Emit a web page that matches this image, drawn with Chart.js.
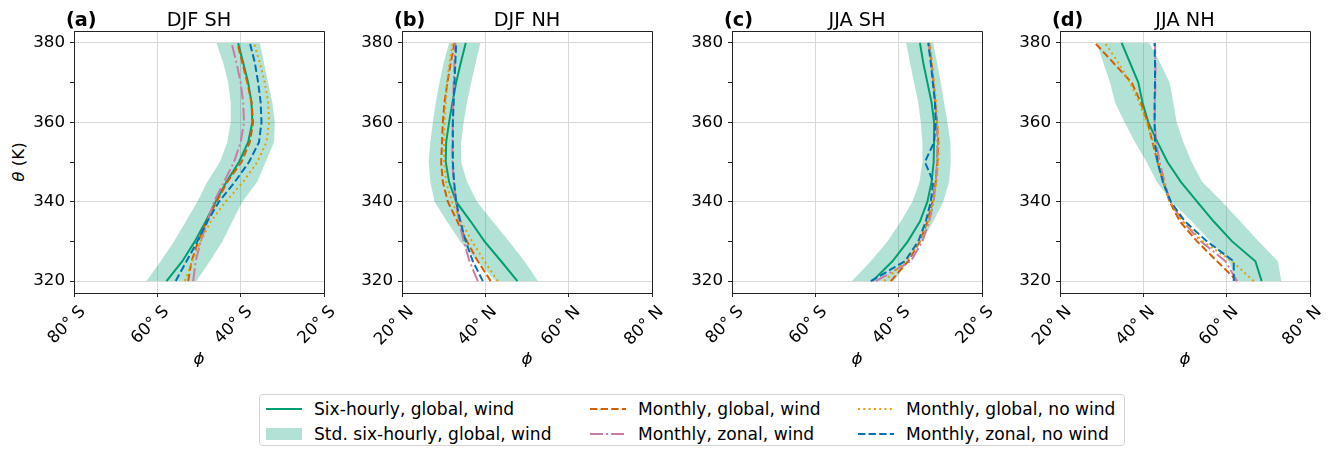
<!DOCTYPE html>
<html>
<head>
<meta charset="utf-8">
<script src="https://cdn.jsdelivr.net/npm/chart.js@4.4.1/dist/chart.umd.min.js"></script>
<style>
  body { margin: 0; background: #fff; font-family: "DejaVu Sans", sans-serif; color: #000; }
  #fig { position: relative; width: 1343px; height: 449px; overflow: hidden; }
  canvas.panel { position: absolute; top: 0; }
  .tag, .ttl { position: absolute; top: 9.5px; font-size: 19.3px; line-height: 20px; white-space: nowrap; }
  .tag { font-weight: bold; }
  .ttl { transform: translateX(-50%); }
  #ylab { position: absolute; left: 17.5px; top: 162px; font-size: 16.7px; line-height: 20px;
          white-space: nowrap; transform: translate(-50%, -50%) rotate(-90deg); }
  #legend { position: absolute; left: 259px; top: 394px; width: 866px; height: 52px;
            border: 1px solid #d4d4d4; border-radius: 4px; box-sizing: border-box; }
  .entry { position: absolute; height: 20px; display: flex; align-items: center;
           font-size: 17.1px; line-height: 20px; white-space: nowrap; }
  .entry svg { margin-right: 12px; }
</style>
</head>
<body>
<div id="fig">
  <div id="ylab"><i>θ</i> (K)</div>
  <div id="legend"></div>
</div>
<script>
// Niveles de temperatura potencial (K)
const theta = [320, 325, 330, 335, 340, 345, 350, 355, 360, 365, 370, 375, 380];

// (a) DJF SH  -- latitudes (negativo = sur)
const djfSH_sixHourly    = [-57.8, -54.0, -51.0, -48.4, -46.0, -43.4, -40.4, -38.2, -37.2, -37.4, -38.2, -39.4, -40.6];
const djfSH_stdLow       = [-62.6, -59.2, -56.0, -53.2, -50.4, -48.0, -45.0, -43.2, -42.4, -42.4, -43.0, -44.2, -45.8];
const djfSH_stdHigh      = [-50.6, -47.4, -44.4, -42.0, -39.6, -36.0, -34.0, -32.0, -31.8, -32.4, -33.4, -34.4, -35.4];
const djfSH_globalWind   = [-52.6, -51.8, -50.2, -48.2, -45.8, -43.2, -39.8, -37.8, -37.0, -37.4, -38.4, -39.6, -40.8];
const djfSH_zonalWind    = [-51.4, -50.8, -49.6, -48.0, -46.4, -44.0, -41.6, -40.0, -39.2, -39.4, -40.0, -41.0, -42.2];
const djfSH_globalNoWind = [-53.4, -51.6, -49.6, -47.2, -43.6, -39.4, -36.0, -33.8, -33.2, -33.4, -34.2, -35.4, -36.8];
const djfSH_zonalNoWind  = [-55.6, -53.0, -50.4, -48.0, -45.2, -41.4, -38.0, -35.6, -35.0, -35.2, -35.8, -36.6, -37.8];

// (b) DJF NH
const djfNH_sixHourly    = [47.7, 43.8, 39.8, 36.5, 33.0, 31.3, 30.5, 30.6, 31.3, 32.1, 33.0, 34.1, 35.3];
const djfNH_stdLow       = [42.5, 38.0, 34.0, 30.8, 27.8, 26.8, 26.4, 26.8, 27.4, 28.1, 29.0, 30.0, 31.3];
const djfNH_stdHigh      = [52.6, 49.4, 45.7, 41.8, 38.0, 35.6, 34.2, 34.2, 34.8, 35.6, 36.6, 37.7, 38.8];
const djfNH_globalWind   = [41.3, 38.2, 35.6, 33.3, 31.0, 29.8, 29.4, 29.6, 29.8, 30.2, 30.9, 31.7, 32.6];
const djfNH_zonalWind    = [38.2, 36.2, 34.8, 33.7, 32.9, 32.4, 32.1, 32.1, 32.2, 32.3, 32.4, 32.6, 32.8];
const djfNH_globalNoWind = [43.0, 39.8, 36.8, 34.2, 32.0, 30.6, 30.1, 30.1, 30.2, 30.5, 30.8, 31.4, 32.2];
const djfNH_zonalNoWind  = [39.4, 37.0, 35.3, 34.0, 33.0, 32.5, 32.2, 32.2, 32.2, 32.4, 32.6, 32.8, 33.0];

// (c) JJA SH
const jjaSH_sixHourly    = [-46.3, -41.5, -37.8, -34.9, -33.1, -32.1, -31.6, -31.5, -31.5, -32.1, -33.1, -34.1, -34.9];
const jjaSH_stdLow       = [-51.2, -46.7, -42.7, -39.5, -36.7, -35.0, -34.3, -34.3, -34.7, -35.3, -36.3, -37.3, -38.2];
const jjaSH_stdHigh      = [-41.1, -37.8, -34.5, -31.7, -29.3, -27.9, -27.5, -27.6, -28.3, -29.1, -29.9, -30.8, -31.7];
const jjaSH_globalWind   = [-41.9, -37.7, -34.9, -33.1, -31.9, -31.1, -30.7, -30.5, -30.8, -31.2, -31.6, -32.1, -32.7];
const jjaSH_zonalWind    = [-45.5, -37.1, -34.3, -32.7, -31.6, -31.1, -30.8, -30.7, -30.9, -31.2, -31.7, -32.2, -32.8];
const jjaSH_globalNoWind = [-43.5, -38.3, -35.0, -32.9, -31.7, -30.9, -30.5, -30.4, -30.7, -31.0, -31.5, -32.0, -32.5];
const jjaSH_zonalNoWind  = [-46.7, -38.5, -35.3, -33.5, -32.3, -31.7, -33.7, -31.5, -31.1, -31.3, -31.8, -32.3, -32.9];

// (d) JJA NH
const jjaNH_sixHourly    = [68.4, 66.9, 61.3, 56.9, 52.9, 49.0, 45.8, 43.4, 41.2, 39.8, 38.8, 36.8, 34.8];
const jjaNH_stdLow       = [62.5, 60.5, 56.1, 51.6, 46.8, 43.2, 40.8, 38.0, 35.5, 33.2, 32.0, 30.4, 28.8];
const jjaNH_stdHigh      = [73.1, 72.3, 67.7, 63.3, 58.9, 54.1, 51.6, 49.6, 48.0, 47.2, 46.3, 44.0, 41.4];
const jjaNH_globalWind   = [62.5, 57.7, 52.9, 48.8, 46.3, 44.8, 43.4, 42.2, 41.0, 39.4, 37.2, 32.8, 28.4];
const jjaNH_zonalWind    = [62.5, 59.7, 53.8, 49.5, 46.4, 45.1, 43.9, 43.1, 42.7, 42.8, 42.9, 42.9, 42.8];
const jjaNH_globalNoWind = [66.5, 61.3, 54.3, 49.5, 46.3, 45.0, 43.6, 42.4, 40.8, 39.0, 36.8, 34.0, 30.8];
const jjaNH_zonalNoWind  = [61.7, 61.7, 55.3, 50.0, 46.6, 44.7, 43.4, 42.8, 42.7, 42.7, 42.8, 42.8, 42.7];

// Colores (Okabe-Ito)
const green = '#009E73';
const bandColor = 'rgba(0, 158, 115, 0.3)';
const orange = '#D55E00';
const pink = '#CC79A7';
const yellow = '#E69F00';
const blue = '#0072B2';

const dashed = [7.4, 3.2];
const dashDot = [12.8, 3.2, 2, 3.2];
const dotted = [2, 3.3];

// Paneles
const panels = [
  { tag: '(a)', title: 'DJF SH', hemi: 'S', plotLeft: 74,
    six: djfSH_sixHourly, lo: djfSH_stdLow, hi: djfSH_stdHigh,
    gw: djfSH_globalWind, zw: djfSH_zonalWind, gn: djfSH_globalNoWind, zn: djfSH_zonalNoWind },
  { tag: '(b)', title: 'DJF NH', hemi: 'N', plotLeft: 402,
    six: djfNH_sixHourly, lo: djfNH_stdLow, hi: djfNH_stdHigh,
    gw: djfNH_globalWind, zw: djfNH_zonalWind, gn: djfNH_globalNoWind, zn: djfNH_zonalNoWind },
  { tag: '(c)', title: 'JJA SH', hemi: 'S', plotLeft: 732,
    six: jjaSH_sixHourly, lo: jjaSH_stdLow, hi: jjaSH_stdHigh,
    gw: jjaSH_globalWind, zw: jjaSH_zonalWind, gn: jjaSH_globalNoWind, zn: jjaSH_zonalNoWind },
  { tag: '(d)', title: 'JJA NH', hemi: 'N', plotLeft: 1060,
    six: jjaNH_sixHourly, lo: jjaNH_stdLow, hi: jjaNH_stdHigh,
    gw: jjaNH_globalWind, zw: jjaNH_zonalWind, gn: jjaNH_globalNoWind, zn: jjaNH_zonalNoWind }
];

// Leyenda (orden por columnas, como en la figura)
const legendItems = [
  { label: 'Six-hourly, global, wind', color: green, dash: null, col: 0, row: 0 },
  { label: 'Std. six-hourly, global, wind', color: bandColor, band: true, col: 0, row: 1 },
  { label: 'Monthly, global, wind', color: orange, dash: dashed, col: 1, row: 0 },
  { label: 'Monthly, zonal, wind', color: pink, dash: dashDot, col: 1, row: 1 },
  { label: 'Monthly, global, no wind', color: yellow, dash: dotted, col: 2, row: 0 },
  { label: 'Monthly, zonal, no wind', color: blue, dash: dashed, col: 2, row: 1 }
];

Chart.defaults.font.family = '"DejaVu Sans", sans-serif';
Chart.defaults.font.size = 16.7;
Chart.defaults.color = '#000';

// Marco superior y derecho
const framePlugin = {
  id: 'frame',
  afterDraw(chart) {
    const { ctx, chartArea: a } = chart;
    const l = Math.floor(a.left) + 0.5, r = Math.floor(a.right) + 0.5;
    const t = Math.floor(a.top) + 0.5, b = Math.floor(a.bottom) + 0.5;
    ctx.save();
    ctx.strokeStyle = '#222';
    ctx.lineWidth = 1;
    ctx.beginPath();
    ctx.moveTo(l, t);
    ctx.lineTo(r, t);
    ctx.lineTo(r, b);
    ctx.stroke();
    ctx.restore();
  }
};

const pts = lat => lat.map((v, i) => ({ x: v, y: theta[i] }));
const line = { showLine: true, pointRadius: 0, borderWidth: 2, tension: 0, fill: false };

const fig = document.getElementById('fig');

panels.forEach(p => {
  const canvas = document.createElement('canvas');
  canvas.className = 'panel';
  canvas.width = 348;
  canvas.height = 380;
  canvas.style.left = (p.plotLeft - 74) + 'px';
  fig.appendChild(canvas);

  // Títulos
  const tag = document.createElement('div');
  tag.className = 'tag';
  tag.textContent = p.tag;
  tag.style.left = (p.plotLeft - 8) + 'px';
  fig.appendChild(tag);
  const ttl = document.createElement('div');
  ttl.className = 'ttl';
  ttl.textContent = p.title;
  ttl.style.left = (p.plotLeft + 125) + 'px';
  fig.appendChild(ttl);

  // Banda: borde izquierdo hacia arriba, borde derecho hacia abajo
  const band = pts(p.lo).concat(pts(p.hi).reverse());

  const south = p.hemi === 'S';
  new Chart(canvas, {
    type: 'scatter',
    data: {
      datasets: [
        { ...line, data: pts(p.zn), borderColor: blue, borderDash: dashed },
        { ...line, data: pts(p.gn), borderColor: yellow, borderDash: dotted },
        { ...line, data: pts(p.zw), borderColor: pink, borderDash: dashDot },
        { ...line, data: pts(p.gw), borderColor: orange, borderDash: dashed },
        { ...line, data: pts(p.six), borderColor: green },
        { ...line, data: band, borderWidth: 0, borderColor: 'rgba(0,0,0,0)',
          backgroundColor: bandColor, fill: 'shape' }
      ]
    },
    options: {
      responsive: false,
      animation: false,
      events: [],
      layout: { padding: { top: 31, right: 24, bottom: 10, left: 0 } },
      plugins: { legend: { display: false }, tooltip: { enabled: false } },
      scales: {
        x: {
          type: 'linear',
          min: south ? -80 : 20,
          max: south ? -20 : 80,
          ticks: {
            stepSize: 20, autoSkip: false, minRotation: 45, maxRotation: 45,
            labelOffset: 9, padding: 5,
            callback: v => Math.abs(v) + '° ' + p.hemi
          },
          grid: { color: '#d9d9d9', tickLength: 4, tickColor: '#222' },
          border: { color: '#222', width: 1 },
          title: { display: true, text: 'ϕ', font: { style: 'italic', size: 16.7 }, padding: 0 },
          afterFit: s => { s.height = 77; }
        },
        y: {
          min: 317,
          max: 383,
          ticks: {
            stepSize: 10, includeBounds: false, padding: 5,
            callback: v => (v % 20 === 0 ? v : '')
          },
          grid: {
            color: c => (c.tick && c.tick.value % 20 === 0 ? '#d9d9d9' : 'rgba(0,0,0,0)'),
            tickLength: 4, tickColor: '#222'
          },
          border: { color: '#222', width: 1 },
          afterFit: s => { s.width = 74; }
        }
      }
    },
    plugins: [framePlugin]
  });
});

// Construir la leyenda
const legend = document.getElementById('legend');
const colX = [6, 330, 598];
const rowY = [14.3, 39.3];
legendItems.forEach(it => {
  const e = document.createElement('div');
  e.className = 'entry';
  e.style.left = colX[it.col] + 'px';
  e.style.top = (rowY[it.row] - 10) + 'px';
  let svg;
  if (it.band) {
    svg = '<svg width="36" height="14"><rect x="0" y="1" width="36" height="12" fill="' + it.color + '"/></svg>';
  } else {
    const da = it.dash ? ' stroke-dasharray="' + it.dash.join(',') + '"' : '';
    svg = '<svg width="36" height="14"><line x1="0" y1="7" x2="36" y2="7" stroke="' + it.color +
          '" stroke-width="2"' + da + '/></svg>';
  }
  e.innerHTML = svg + '<span>' + it.label + '</span>';
  legend.appendChild(e);
});
</script>
</body>
</html>
